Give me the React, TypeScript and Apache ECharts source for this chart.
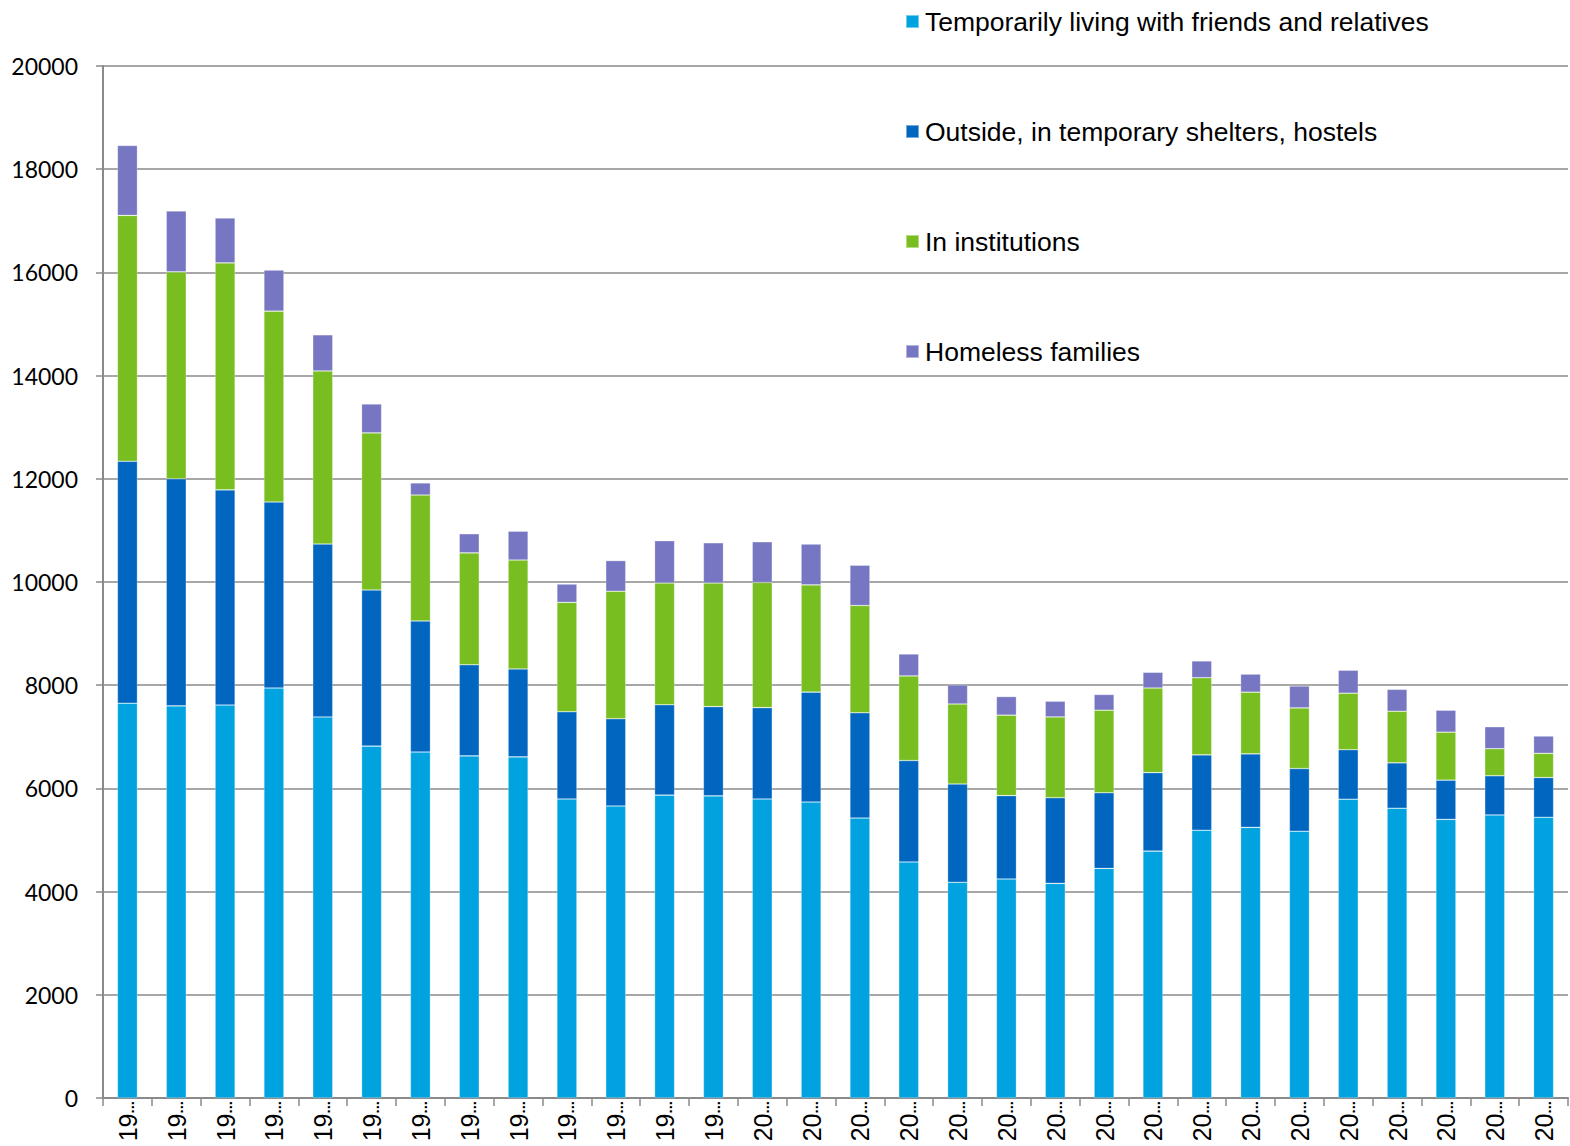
import React, { useEffect, useRef } from "react";
import * as echarts from "echarts";

const years: string[] = [
  "1987", "1988", "1989", "1990", "1991", "1992", "1993", "1994", "1995", "1996",
  "1997", "1998", "1999", "2000", "2001", "2002", "2003", "2004", "2005", "2006",
  "2007", "2008", "2009", "2010", "2011", "2012", "2013", "2014", "2015", "2016",
];

const friendsRelatives: number[] = [
  7650, 7600, 7615, 7945, 7385, 6820, 6705, 6630, 6610, 5795,
  5660, 5870, 5855, 5795, 5735, 5425, 4575, 4180, 4245, 4160,
  4450, 4785, 5190, 5245, 5170, 5790, 5615, 5400, 5485, 5440,
];

const outsideShelters: number[] = [
  4690, 4400, 4170, 3605, 3350, 3025, 2540, 1765, 1705, 1690,
  1690, 1750, 1730, 1770, 2130, 2040, 1965, 1905, 1615, 1660,
  1465, 1520, 1460, 1425, 1215, 960, 880, 760, 760, 770,
];

const institutions: number[] = [
  4765, 4010, 4400, 3700, 3355, 3045, 2440, 2170, 2110, 2120,
  2470, 2360, 2395, 2425, 2080, 2080, 1640, 1550, 1560, 1565,
  1600, 1640, 1495, 1195, 1175, 1095, 1000, 930, 525, 470,
];

const homelessFamilies: number[] = [
  1355, 1180, 870, 795, 700, 560, 235, 370, 560, 355,
  595, 820, 780, 790, 790, 780, 425, 370, 360, 305,
  305, 305, 325, 350, 425, 445, 425, 425, 425, 335,
];

const seriesNames: string[] = [
  "Temporarily living with friends and relatives",
  "Outside, in temporary shelters, hostels",
  "In institutions",
  "Homeless families",
];

const seriesColors: string[] = ["#00A3E0", "#0066C0", "#78BE21", "#7676C2"];

export default function App() {
  const ref = useRef<HTMLDivElement>(null);

  useEffect(() => {
    if (!ref.current) return;
    document.body.style.margin = "0";
    const chart = echarts.init(ref.current, undefined, { renderer: "svg", width: 1570, height: 1146 });
    const values = [friendsRelatives, outsideShelters, institutions, homelessFamilies];
    chart.setOption({
      animation: false,
      backgroundColor: "#ffffff",
      grid: { left: 103, right: 2, top: 66, bottom: 48, containLabel: false },
      legend: {
        orient: "vertical",
        left: 905,
        top: 9,
        padding: 0,
        itemWidth: 13,
        itemHeight: 13,
        itemGap: 84,
        icon: "rect",
        textStyle: {
          fontFamily: "Liberation Sans, Arial, sans-serif",
          fontSize: 26.5,
          lineHeight: 26,
          color: "#000000",
          padding: [0, 0, 0, 1],
        },
        data: seriesNames,
      },
      xAxis: {
        type: "category",
        data: years,
        boundaryGap: true,
        axisLine: { lineStyle: { color: "#8a8a8a", width: 2 } },
        axisTick: { show: true, alignWithLabel: false, interval: 0, length: 8, lineStyle: { color: "#8a8a8a", width: 1.5 } },
        axisLabel: {
          interval: 0,
          rotate: 90,
          margin: 3,
          color: "#000000",
          formatter: (v: string) => "{d|" + v.slice(0, 2) + "}{e|...}",
          rich: {
            d: { fontFamily: "Liberation Sans, Arial, sans-serif", fontSize: 25, lineHeight: 26, verticalAlign: "bottom" },
            e: { fontFamily: "Liberation Sans, Arial, sans-serif", fontSize: 15, fontWeight: "bold", lineHeight: 26, verticalAlign: "bottom", padding: [0, 0, 4, 0] },
          },
        },
      },
      yAxis: {
        type: "value",
        min: 0,
        max: 20000,
        interval: 2000,
        axisLine: { show: true, lineStyle: { color: "#8a8a8a", width: 2 } },
        axisTick: { show: true, length: 7, lineStyle: { color: "#8a8a8a", width: 1.5 } },
        splitLine: { lineStyle: { color: "#8a8a8a", width: 1.5 } },
        axisLabel: {
          margin: 25,
          fontFamily: "Lato, Carlito, sans-serif",
          fontSize: 23,
          color: "#000000",
          formatter: (v: number) => String(v),
        },
      },
      series: seriesNames.map((name, i) => ({
        name,
        type: "bar",
        stack: "total",
        barWidth: 20,
        data: values[i],
        itemStyle: { color: seriesColors[i], borderColor: "rgba(255,255,255,0.45)", borderWidth: 0.6 },
      })),
    });
    chart.setOption({ legend: { itemGap: 83, top: 8 } });
    return () => chart.dispose();
  }, []);

  return <div ref={ref} style={{ width: 1570, height: 1146 }} />;
}
